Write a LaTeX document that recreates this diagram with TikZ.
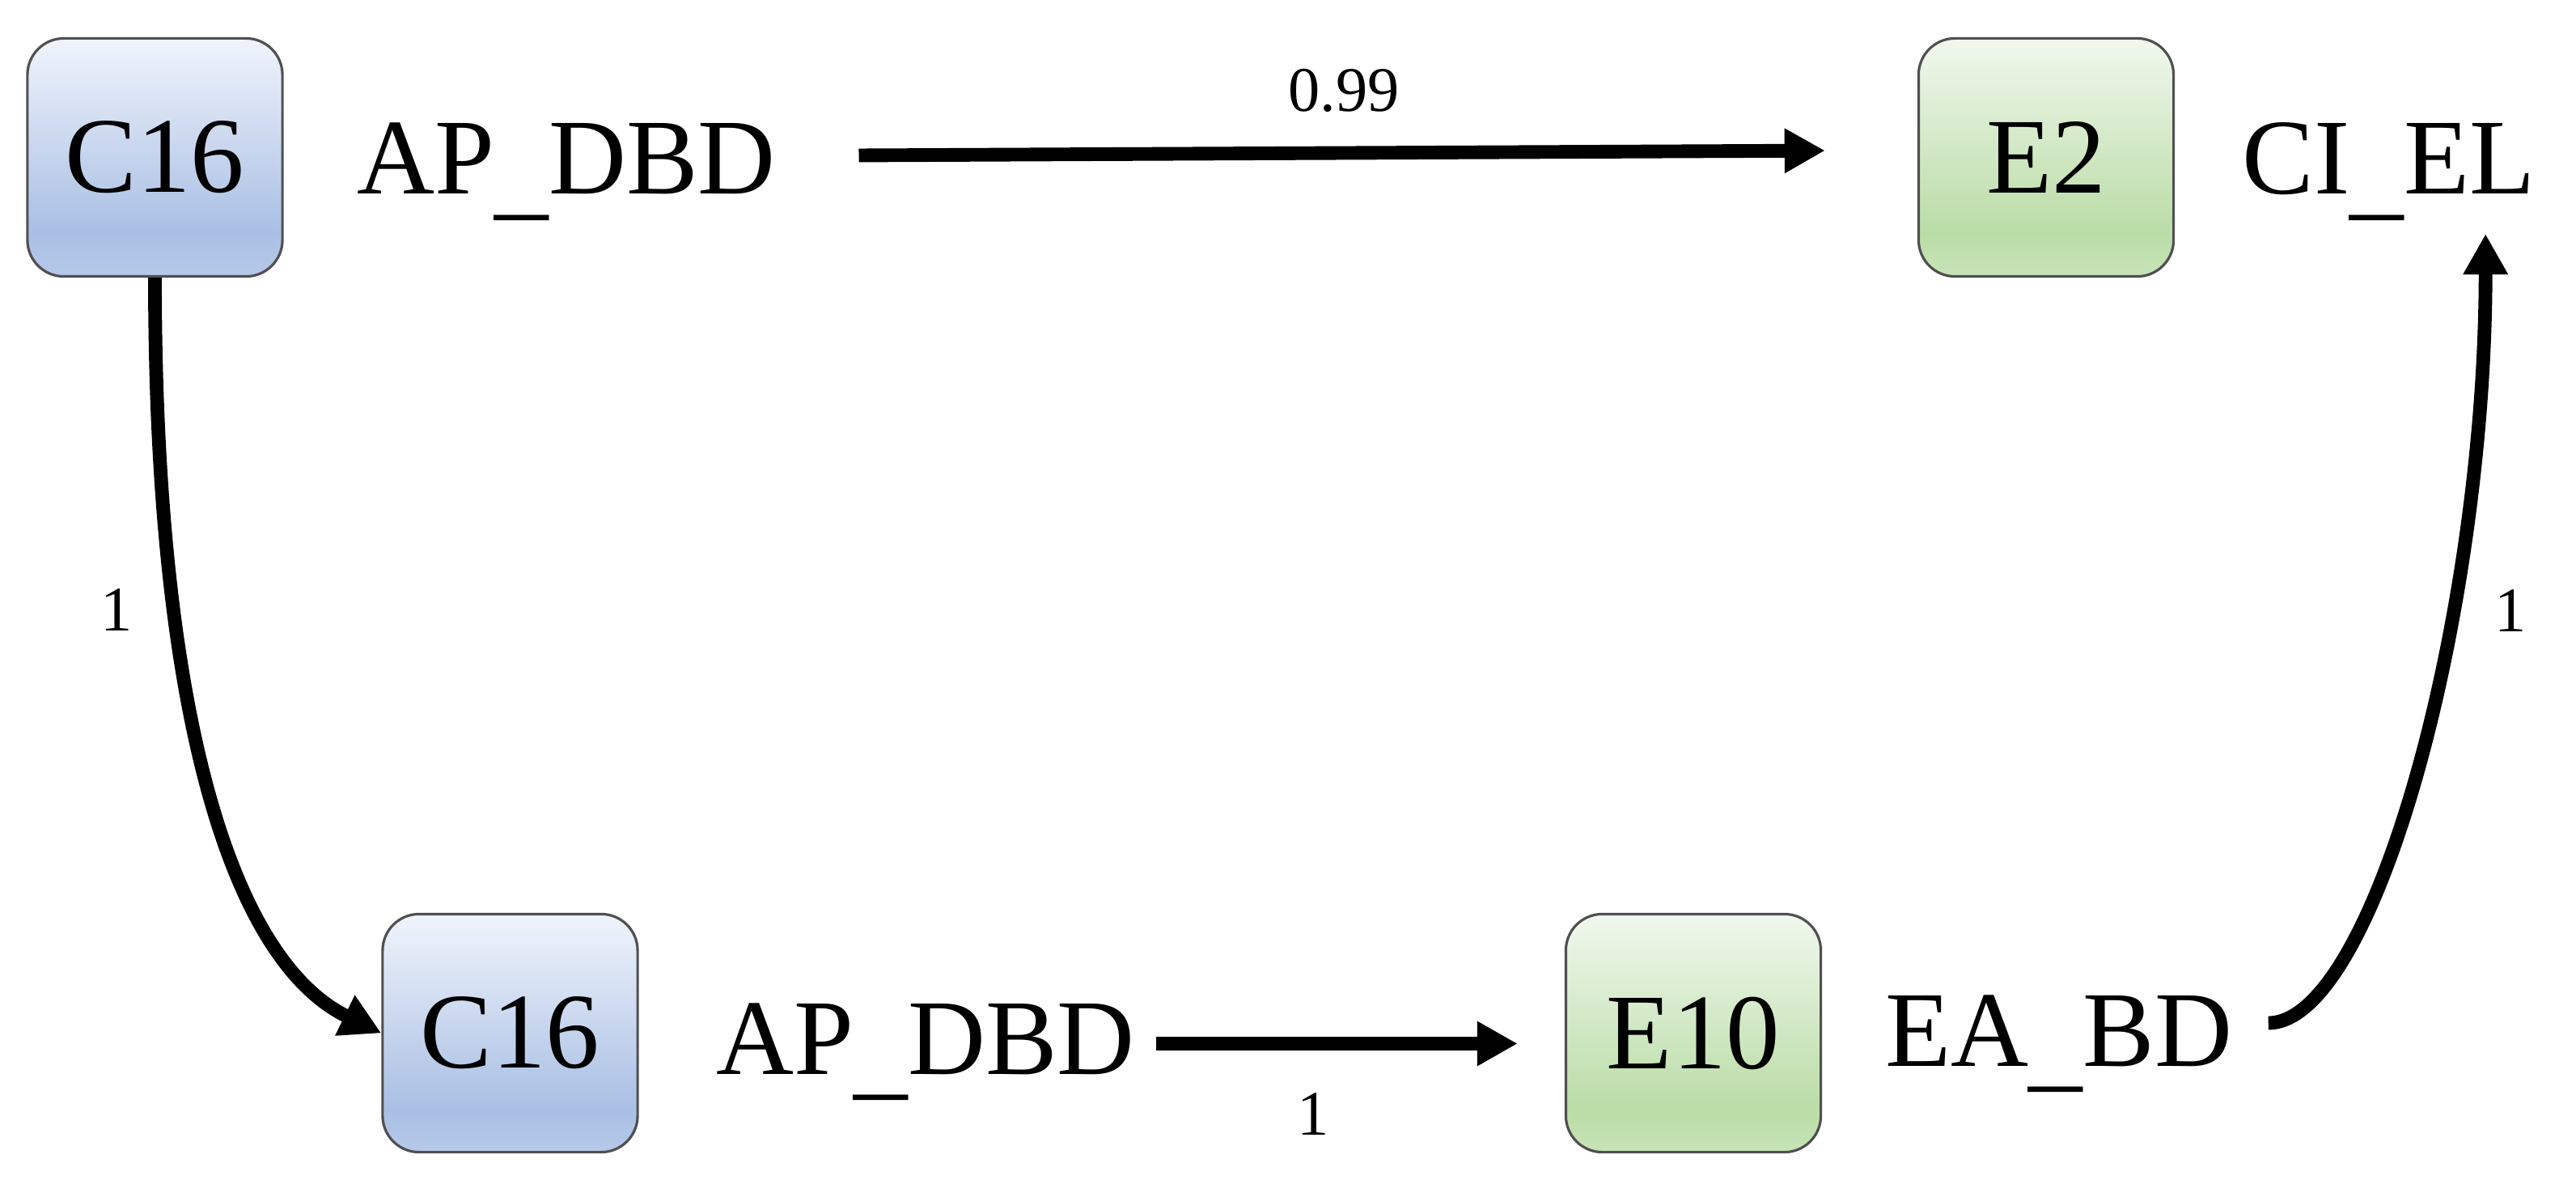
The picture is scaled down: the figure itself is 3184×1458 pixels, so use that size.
\documentclass[tikz,border=0pt]{standalone}
\usepackage{fontspec}
\setmainfont{Liberation Serif}
\usetikzlibrary{arrows.meta,calc}
\definecolor{bluetop}{HTML}{F0F4FB}
\definecolor{bluemid}{HTML}{A9BFE4}
\definecolor{bluebot}{HTML}{B6C9E9}
\definecolor{greentop}{HTML}{F1F8EE}
\definecolor{greenmid}{HTML}{BADCA6}
\definecolor{greenbot}{HTML}{C8E4B8}
\definecolor{boxline}{HTML}{505050}
\pgfdeclareverticalshading{bluesh}{100bp}{color(0bp)=(bluebot); color(25bp)=(bluebot); color(34bp)=(bluemid); color(75bp)=(bluetop); color(100bp)=(bluetop)}
\pgfdeclareverticalshading{greensh}{100bp}{color(0bp)=(greenbot); color(25bp)=(greenbot); color(34bp)=(greenmid); color(75bp)=(greentop); color(100bp)=(greentop)}
\newcommand{\lowus}{\raisebox{-0.12em}{\_}}
\tikzset{
  box/.style={draw=boxline, line width=0.9pt, rounded corners=0.45cm,
    minimum width=3.15cm, minimum height=2.94cm, inner sep=0pt,
    font=\fontsize{37.8}{40}\selectfont},
  bluebox/.style={box, shading=bluesh},
  greenbox/.style={box, shading=greensh},
  codetext/.style={anchor=base west, inner sep=0pt, font=\fontsize{37.8}{40}\selectfont},
  wlabel/.style={inner sep=0pt, font=\fontsize{22.3}{24}\selectfont},
  arr/.style={line width=4.8pt, -{Triangle[length=0.5cm,width=0.52cm]}}
}
\begin{document}
\begin{tikzpicture}[x=0.01cm,y=-0.01cm]
\useasboundingbox (0,0) rectangle (3184,1458);
\fill[white] (0,0) rectangle (3184,1458);
% nodes
\node[bluebox] (c1) at (191.5,194.5) {C16};
\node[codetext] (t1) at (441,240) {AP\lowus DBD};
\node[greenbox] (e2) at (2529,194.5) {E2};
\node[codetext] (t3) at (2771,240) {CI\lowus EL};
\node[bluebox] (c2) at (630.5,1276.5) {C16};
\node[codetext] (t2) at (885,1327) {AP\lowus DBD};
\node[greenbox] (e10) at (2093,1276.5) {E10};
\node[codetext] (t4) at (2330,1317) {EA\lowus BD};
% connectors
\draw[arr, shorten <=1.02cm, shorten >=1.14cm] ($(t1.east |- e2.west)+(0,-2)$) -- ($(e2.west)+(0,-9)$);
\draw[arr, shorten <=0.26cm, shorten >=0.58cm] ($(t2.east |- e10.west)+(0,13)$) -- ($(e10.west)+(0,13)$);
\draw[arr] (c1.south) .. controls +(0,540) and +(-185,-90) .. (c2.west);
\draw[arr] ($(t4.base east)+(44,-53)$) .. controls +(130,0) and +(0,470) .. ($(t3.base east)+(-62,49)$);
% labels
\node[wlabel] (w1) at (1661,112) {0.99};
\node[wlabel] (w2) at (144,754) {1};
\node[wlabel] (w3) at (1623,1377) {1};
\node[wlabel] (w4) at (3103,755) {1};
\end{tikzpicture}
\end{document}
